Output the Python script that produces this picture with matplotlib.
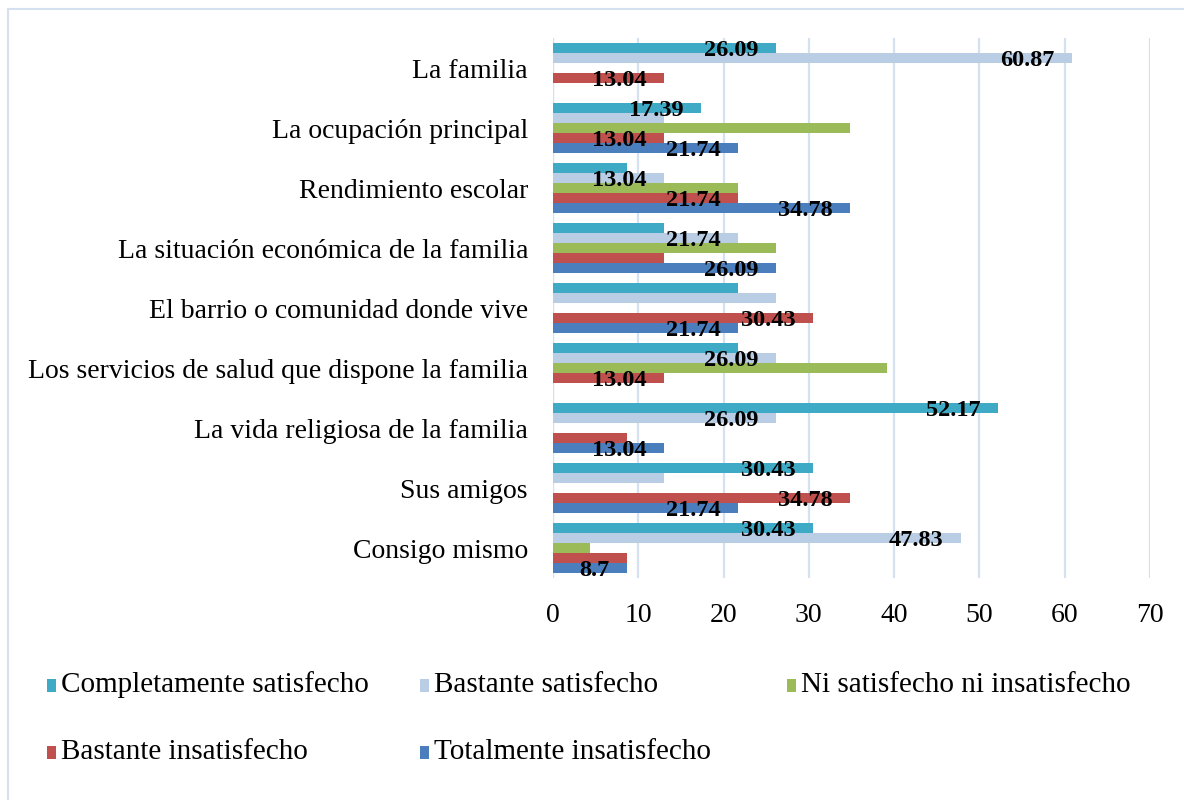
import matplotlib
matplotlib.use("Agg")
import matplotlib.pyplot as plt
from matplotlib.patches import Rectangle
import numpy as np

categories = [
    "La familia",
    "La ocupación principal",
    "Rendimiento escolar",
    "La situación económica de la familia",
    "El barrio o comunidad donde vive",
    "Los servicios de salud que dispone la familia",
    "La vida religiosa de la familia",
    "Sus amigos",
    "Consigo mismo",
]
series_names = [
    "Completamente satisfecho",
    "Bastante satisfecho",
    "Ni satisfecho ni insatisfecho",
    "Bastante insatisfecho",
    "Totalmente insatisfecho",
]
completamente = [26.09, 17.39, 8.7, 13.04, 21.74, 21.74, 52.17, 30.43, 30.43]
bastante_sat = [60.87, 13.04, 13.04, 21.74, 26.09, 26.09, 26.09, 13.04, 47.83]
ni_ni = [0, 34.78, 21.74, 26.09, 0, 39.13, 0, 0, 4.35]
bastante_ins = [13.04, 13.04, 21.74, 13.04, 30.43, 13.04, 8.7, 34.78, 8.7]
totalmente = [0, 21.74, 34.78, 26.09, 21.74, 0, 13.04, 21.74, 8.7]

# data labels that are visible in the chart ('' = hidden)
labels_completamente = ["26.09", "17.39", "", "", "", "", "52.17", "30.43", "30.43"]
labels_bastante_sat = ["60.87", "", "13.04", "21.74", "", "26.09", "26.09", "", "47.83"]
labels_ni_ni = ["", "", "", "", "", "", "", "", ""]
labels_bastante_ins = ["13.04", "13.04", "21.74", "", "30.43", "13.04", "", "34.78", ""]
labels_totalmente = ["", "21.74", "34.78", "26.09", "21.74", "", "13.04", "21.74", "8.7"]

xticks = [0, 10, 20, 30, 40, 50, 60, 70]

values = [completamente, bastante_sat, ni_ni, bastante_ins, totalmente]
labels = [labels_completamente, labels_bastante_sat, labels_ni_ni,
          labels_bastante_ins, labels_totalmente]
colors = ["#3FAAC6", "#B9CDE5", "#9BBB59", "#C0504D", "#4A7EBD"]

plt.rcParams["font.family"] = ["Liberation Serif", "DejaVu Serif"]

W, H = 1184, 800
fig = plt.figure(figsize=(W / 100, H / 100), dpi=100)
ax = fig.add_axes([553 / W, 1 - 578 / H, (1150 - 553) / W, (578 - 38) / H])

n = len(series_names)
bh = 1.0 / 6
y = np.arange(len(categories))
for k in range(n):
    pos = y + (k - 2) * bh
    ax.barh(pos, values[k], height=bh * 0.94, color=colors[k], linewidth=0, zorder=3)
    for i, lab in enumerate(labels[k]):
        if lab:
            ax.annotate(lab, (values[k][i], pos[i]), xytext=(-12.5, -1.5),
                        textcoords="offset points", ha="right", va="center",
                        fontsize=17.5, fontweight="bold", color="black", zorder=5)

ax.set_ylim(len(categories) - 0.5, -0.5)
ax.set_xlim(0, 70)
ax.set_xticks(xticks)
ax.set_xticklabels([str(t) for t in xticks], fontsize=20)
ax.set_yticks(y)
ax.set_yticklabels(categories, fontsize=20)
ax.tick_params(axis="both", length=0)
ax.tick_params(axis="x", pad=18)
ax.tick_params(axis="y", pad=18)
for s in ax.spines.values():
    s.set_visible(False)
ax.xaxis.grid(True, color="#D5E1F0", linewidth=1.6, zorder=0)
ax.set_axisbelow(True)
ax.axvline(0, color="#D5E1F0", linewidth=1.6, zorder=1)

# outer border
fig.add_artist(Rectangle((8 / W, -0.1), 1.2, 1 - 9 / H + 0.1, transform=fig.transFigure,
                         fill=False, edgecolor="#D5E1F0", linewidth=1.5))

# legend (manual layout, row order)
legend_pos = [(47, 685), (420, 685), (787, 685), (47, 752), (420, 752)]
for k, (lx, ly) in enumerate(legend_pos):
    fig.add_artist(Rectangle((lx / W, 1 - (ly + 7) / H), 9 / W, 13 / H,
                             transform=fig.transFigure, facecolor=colors[k],
                             edgecolor="none"))
    fig.text((lx + 14) / W, 1 - ly / H, series_names[k], fontsize=21,
             va="center", ha="left")

fig.savefig("out.png", dpi=100)
